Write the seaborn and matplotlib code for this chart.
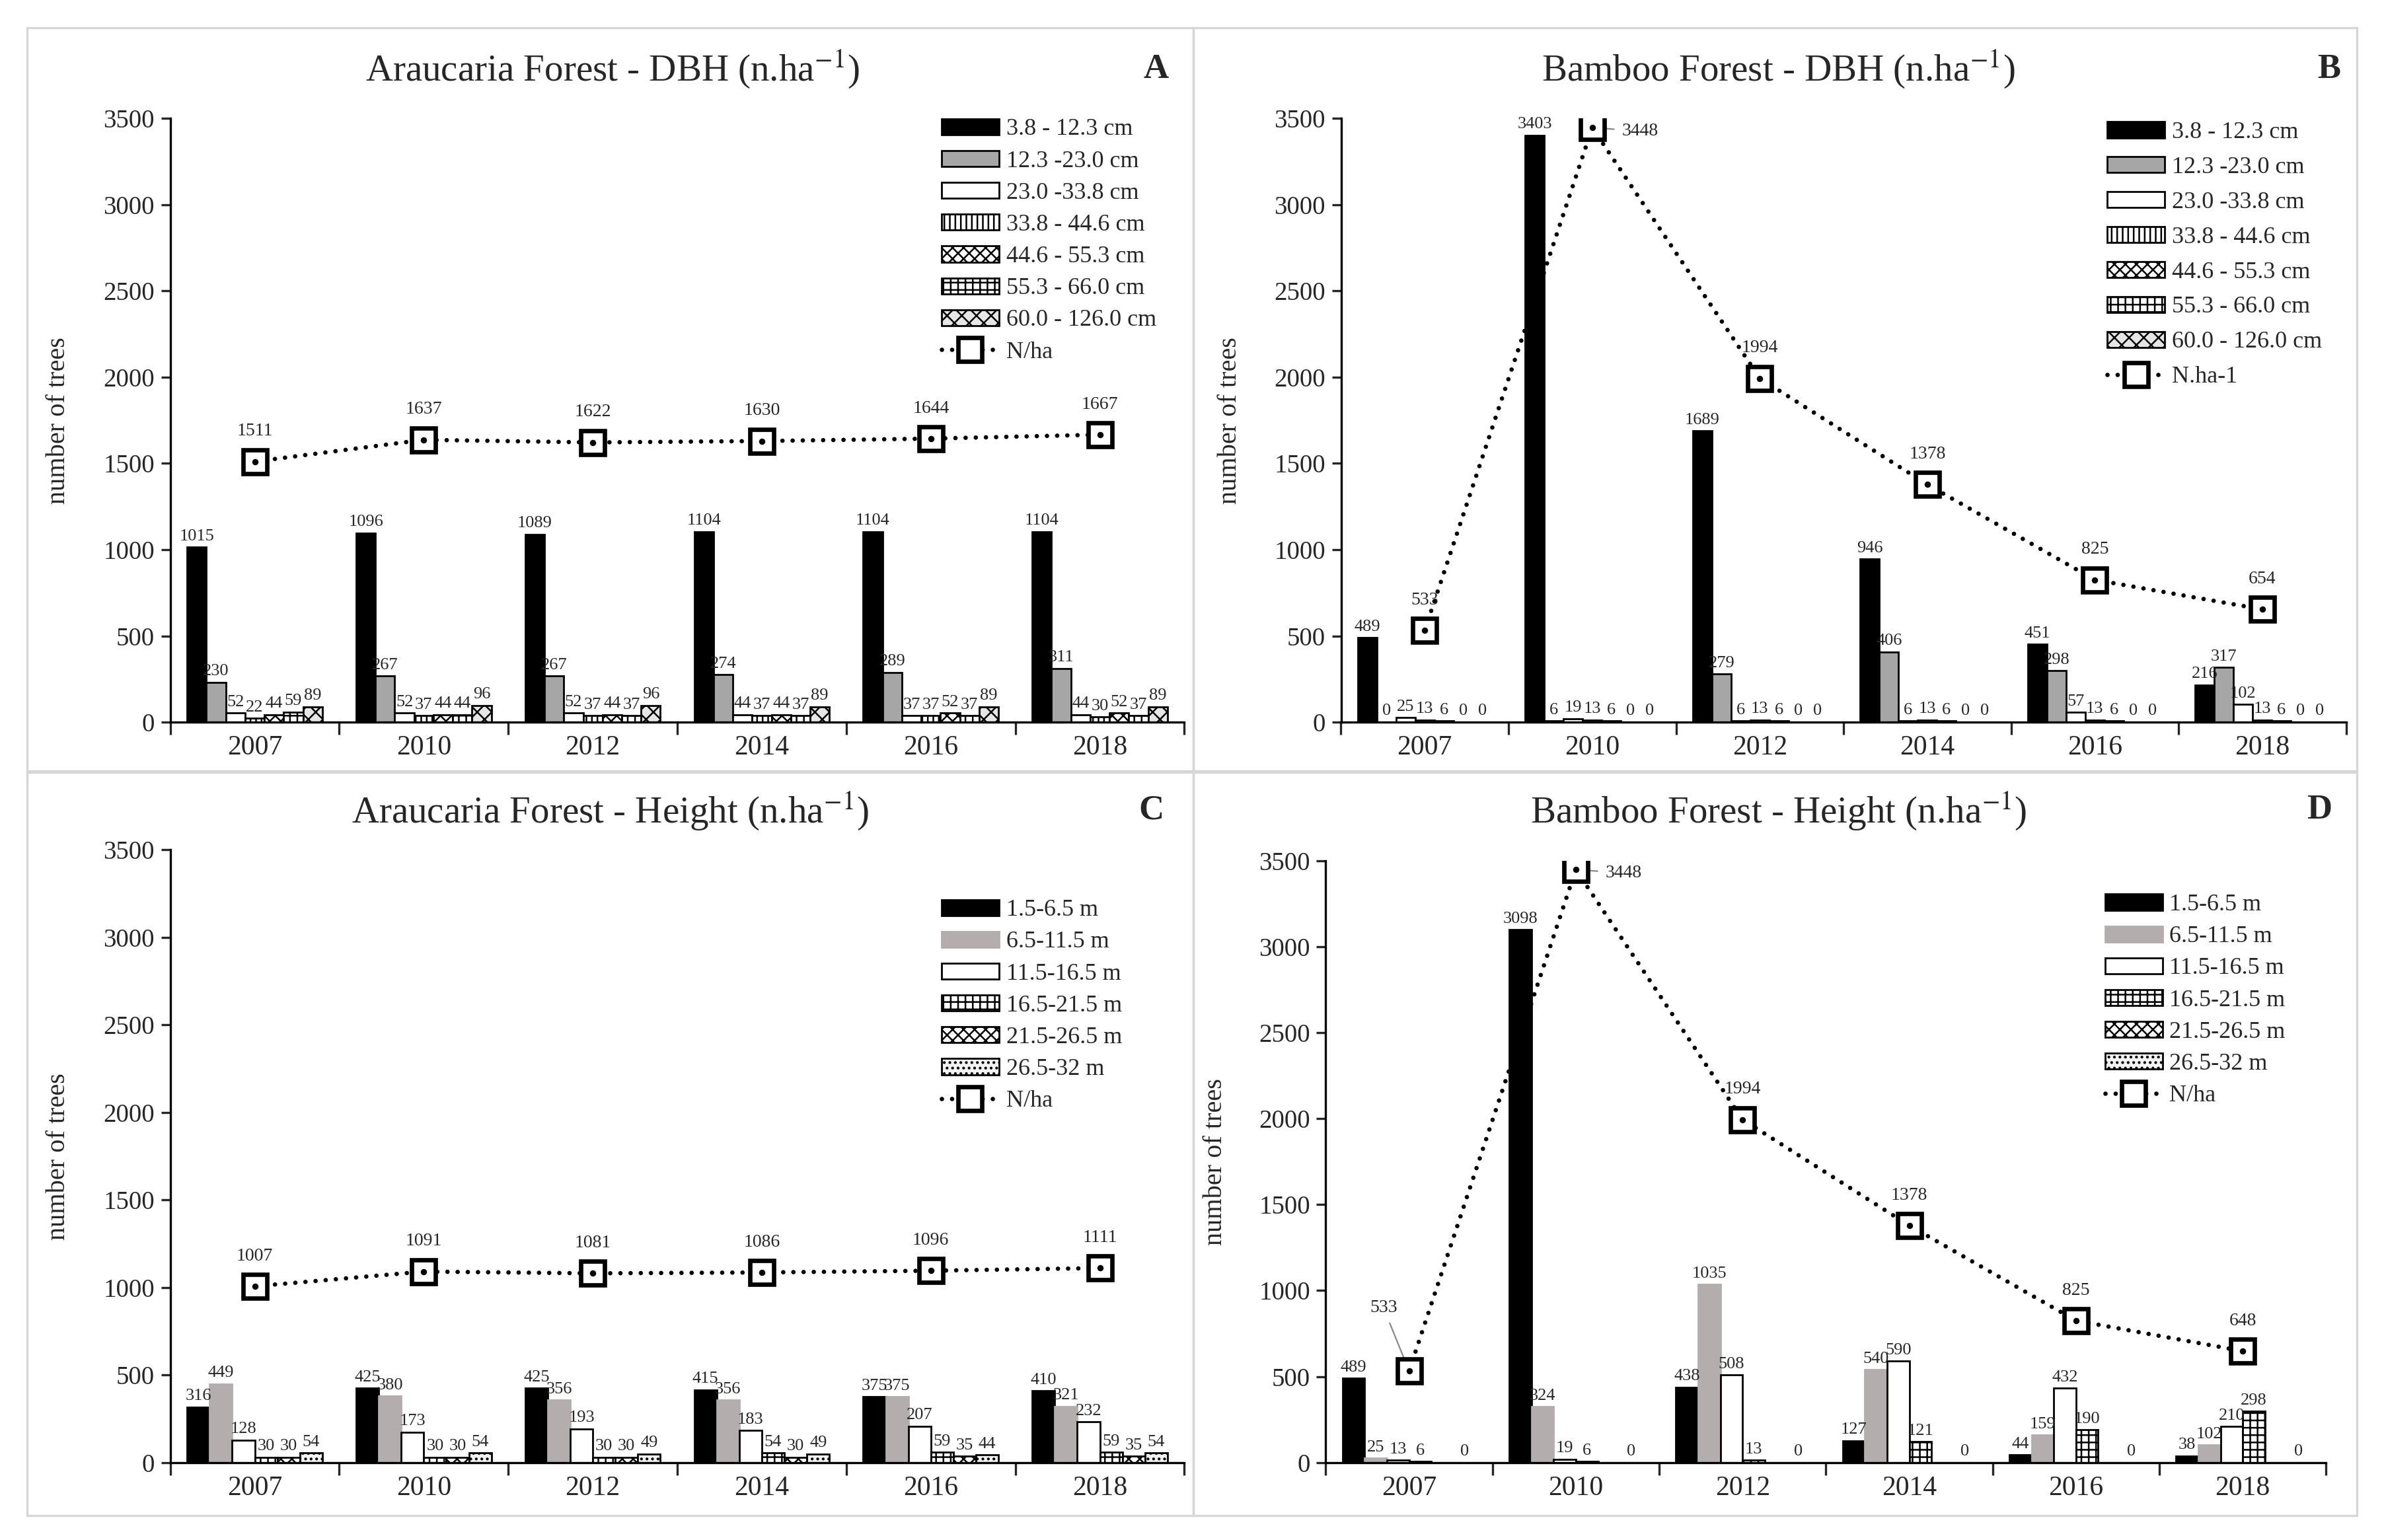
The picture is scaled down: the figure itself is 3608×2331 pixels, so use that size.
import matplotlib
matplotlib.use('Agg')
import matplotlib.pyplot as plt
import numpy as np
import pandas as pd
import seaborn as sns

# Data
years = ['2007', '2010', '2012', '2014', '2016', '2018']

dbh_classes = ['3.8 - 12.3 cm', '12.3 -23.0 cm', '23.0 -33.8 cm', '33.8 - 44.6 cm',
               '44.6 - 55.3 cm', '55.3 - 66.0 cm', '60.0 - 126.0 cm']
height_classes = ['1.5-6.5 m', '6.5-11.5 m', '11.5-16.5 m', '16.5-21.5 m',
                  '21.5-26.5 m', '26.5-32 m']

# rows = size classes, columns = years
araucaria_dbh = [
    [1015, 1096, 1089, 1104, 1104, 1104],
    [230, 267, 267, 274, 289, 311],
    [52, 52, 52, 44, 37, 44],
    [22, 37, 37, 37, 37, 30],
    [44, 44, 44, 44, 52, 52],
    [59, 44, 37, 37, 37, 37],
    [89, 96, 96, 89, 89, 89],
]
araucaria_dbh_total = [1511, 1637, 1622, 1630, 1644, 1667]

bamboo_dbh = [
    [489, 3403, 1689, 946, 451, 216],
    [0, 6, 279, 406, 298, 317],
    [25, 19, 6, 6, 57, 102],
    [13, 13, 13, 13, 13, 13],
    [6, 6, 6, 6, 6, 6],
    [0, 0, 0, 0, 0, 0],
    [0, 0, 0, 0, 0, 0],
]
bamboo_dbh_total = [533, 3448, 1994, 1378, 825, 654]

araucaria_height = [
    [316, 425, 425, 415, 375, 410],
    [449, 380, 356, 356, 375, 321],
    [128, 173, 193, 183, 207, 232],
    [30, 30, 30, 54, 59, 59],
    [30, 30, 30, 30, 35, 35],
    [54, 54, 49, 49, 44, 54],
]
araucaria_height_total = [1007, 1091, 1081, 1086, 1096, 1111]

bamboo_height = [
    [489, 3098, 438, 127, 44, 38],
    [25, 324, 1035, 540, 159, 102],
    [13, 19, 508, 590, 432, 210],
    [6, 6, 13, 121, 190, 298],
    [0, 0, 0, 0, 0, 0],
    [0, 0, 0, 0, 0, 0],
]
bamboo_height_total = [533, 3448, 1994, 1378, 825, 648]

# bar styles: (facecolor, edgecolor, hatch)
dbh_styles = [('black', 'black', None), ('#a6a6a6', 'black', None), ('white', 'black', None),
              ('white', 'black', '||||'), ('white', 'black', 'xxxx'), ('white', 'black', '+++'),
              ('#e6e6e6', 'black', 'xxx')]
height_styles = [('black', 'black', None), ('#b3adad', '#b3adad', None), ('white', 'black', None),
                 ('white', 'black', '+++'), ('white', 'black', 'xxxx'), ('#f2f2f2', 'black', '....')]

sns.set_style('ticks')
plt.rcParams['font.family'] = ['Liberation Serif', 'DejaVu Serif']
plt.rcParams['mathtext.fontset'] = 'stix'
plt.rcParams['hatch.linewidth'] = 0.9

fig = plt.figure(figsize=(18.04, 11.655), dpi=200)

# light panel frames
for (x0, y0) in [(0.0115, 0.4995), (0.5006, 0.4995), (0.0115, 0.0158), (0.5006, 0.0158)]:
    fig.add_artist(plt.Rectangle((x0, y0), 0.4891 if x0 < 0.5 else 0.4879, 0.4825,
                                 transform=fig.transFigure, fill=False,
                                 ec='#d6d6d6', lw=1.2))


def draw_panel(rect, values, classes, totals, styles, title, title_xy, letter, letter_xy,
               line_label, legend_xy, spacing=0.42, skip_labels=(), peak_right=False,
               low_left=False):
    ax = fig.add_axes(rect)
    df = pd.DataFrame({
        'year': np.repeat([years], len(classes), axis=0).ravel(),
        'cls': np.repeat(classes, len(years)),
        'value': np.array(values).ravel(),
    })
    sns.barplot(data=df, x='year', y='value', hue='cls', order=years, hue_order=classes,
                palette=[s[0] for s in styles], saturation=1, errorbar=None,
                legend=False, ax=ax, width=0.8)
    for k, cont in enumerate(ax.containers):
        fc, ec, hatch = styles[k]
        for p in cont.patches:
            p.set_facecolor(fc)
            p.set_edgecolor(ec)
            p.set_linewidth(1.0)
            if hatch:
                p.set_hatch(hatch)
        labels = ['' if k in skip_labels else str(v) for v in values[k]]
        ax.bar_label(cont, labels=labels, padding=2, fontsize=9.5)

    xs = np.arange(len(years))
    line, = ax.plot(xs, totals, color='black', lw=2.4, linestyle=(0, (0.01, 2.3)),
                    dash_capstyle='round', marker='s', markersize=13,
                    markerfacecolor='white', markeredgecolor='black',
                    markeredgewidth=2.4, label=line_label, zorder=5)
    ax.plot(xs, totals, linestyle='none', marker='o', markersize=2.4, color='black',
            zorder=6)
    peak = int(np.argmax(totals))
    for i, v in enumerate(totals):
        if peak_right and i == peak:
            ax.annotate(str(v), (i, v), xytext=(16, -2), textcoords='offset points',
                        ha='left', va='center', fontsize=10,
                        arrowprops=dict(arrowstyle='-', color='#888888', lw=0.8))
        elif low_left and i == 0:
            ax.annotate(str(v), (i, v), xytext=(-14, 30), textcoords='offset points',
                        ha='center', va='bottom', fontsize=10,
                        arrowprops=dict(arrowstyle='-', color='#888888', lw=0.8))
        else:
            ax.annotate(str(v), (i, v), xytext=(0, 12), textcoords='offset points',
                        ha='center', va='bottom', fontsize=10)

    ax.set_ylim(0, 3500)
    ax.set_yticks(range(0, 3501, 500))
    ax.set_xlim(-0.5, len(years) - 0.5)
    ax.set_xticks(xs)
    ax.set_xticklabels(years)
    ax.set_xticks(np.arange(-0.5, len(years), 1), minor=True)
    ax.tick_params(axis='x', which='major', length=0, labelsize=15, pad=7)
    ax.tick_params(axis='x', which='minor', length=7, width=1.2, direction='out')
    ax.tick_params(axis='y', labelsize=14, length=5, width=1.2, direction='out')
    ax.set_xlabel('')
    ax.set_ylabel('number of trees', fontsize=14.5)
    ax.yaxis.set_label_coords(-0.098, 0.5)
    sns.despine(ax=ax)
    for s in ['left', 'bottom']:
        ax.spines[s].set_linewidth(1.2)
        ax.spines[s].set_color('black')

    ax.legend(list(ax.containers) + [line], list(classes) + [line_label],
              loc='upper left', bbox_to_anchor=legend_xy, bbox_transform=fig.transFigure,
              frameon=False, fontsize=13, handlelength=2.4, handleheight=0.65,
              labelspacing=spacing, handletextpad=0.3, borderpad=0, borderaxespad=0)

    fig.text(title_xy[0], title_xy[1], title, ha='center', va='center', fontsize=20.5)
    fig.text(letter_xy[0], letter_xy[1], letter, ha='center', va='center',
             fontsize=19, fontweight='bold')
    return ax


draw_panel([0.0714, 0.5311, 0.4254, 0.3919], araucaria_dbh, dbh_classes,
           araucaria_dbh_total, dbh_styles, 'Araucaria Forest - DBH (n.ha$^{-1}$)',
           (0.257, 0.955), 'A', (0.485, 0.955), 'N/ha', (0.395, 0.923))

draw_panel([0.5625, 0.5311, 0.4216, 0.3919], bamboo_dbh, dbh_classes,
           bamboo_dbh_total, dbh_styles, 'Bamboo Forest - DBH (n.ha$^{-1}$)',
           (0.746, 0.955), 'B', (0.977, 0.955), 'N.ha-1', (0.884, 0.921),
           spacing=0.55, peak_right=True)

draw_panel([0.0714, 0.0503, 0.4254, 0.3978], araucaria_height, height_classes,
           araucaria_height_total, height_styles, 'Araucaria Forest - Height (n.ha$^{-1}$)',
           (0.256, 0.473), 'C', (0.483, 0.474), 'N/ha', (0.395, 0.416))

draw_panel([0.5561, 0.0503, 0.4196, 0.3909], bamboo_height, height_classes,
           bamboo_height_total, height_styles, 'Bamboo Forest - Height (n.ha$^{-1}$)',
           (0.746, 0.473), 'D', (0.973, 0.474), 'N/ha', (0.883, 0.4195),
           skip_labels=(4,), peak_right=True, low_left=True)

fig.savefig('out.png', dpi=200, facecolor='white')
